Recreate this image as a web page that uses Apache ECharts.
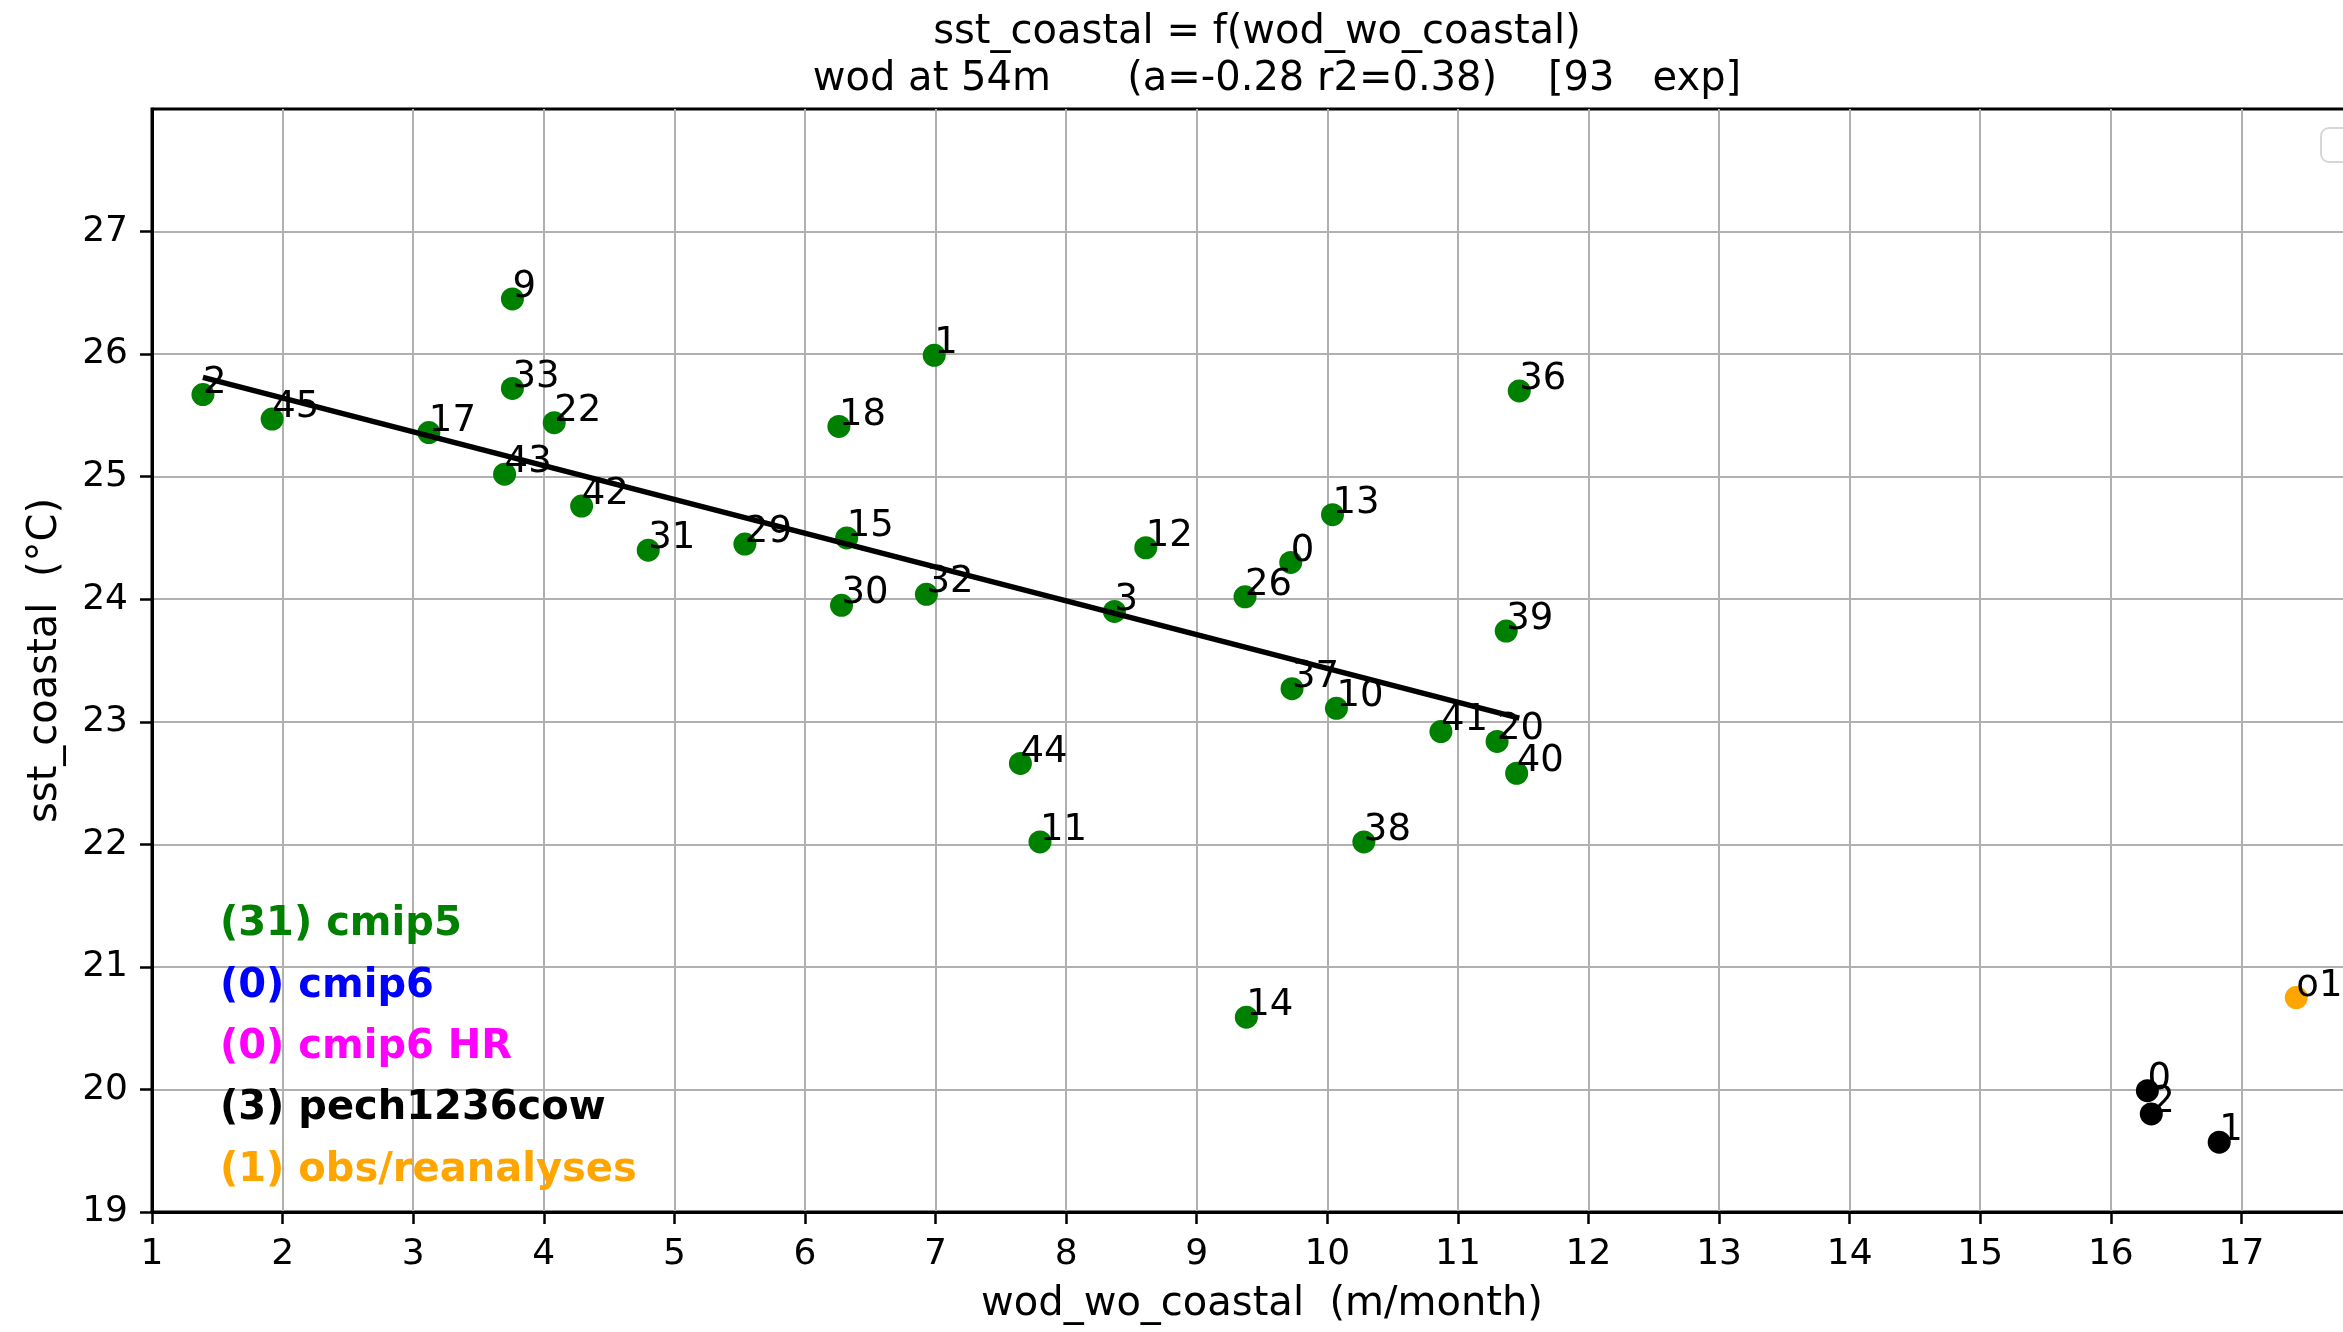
<!DOCTYPE html>
<html>
<head>
<meta charset="utf-8">
<script src="https://cdn.jsdelivr.net/npm/echarts@6/dist/echarts.min.js"></script>
<style>
html,body{margin:0;padding:0;background:#fff;overflow:hidden;width:2343px;height:1332px;}
#chart{width:2400px;height:1332px;}
</style>
</head>
<body>
<div id="chart"></div>
<script>
// ---- data ----
const cmip5Labels = ['2','45','17','9','33','22','43','42','31','29','18','15','30','32','1','3','12','44','11','26','0','13','37','10','38','14','36','39','41','20','40'];
const cmip5X = [1.39,1.92,3.12,3.76,3.76,4.08,3.70,4.29,4.80,5.54,6.26,6.32,6.28,6.93,6.99,8.37,8.61,7.65,7.80,9.37,9.72,10.04,9.73,10.07,10.28,9.38,11.47,11.37,10.87,11.30,11.45];
const cmip5Y = [25.67,25.47,25.36,26.45,25.72,25.44,25.02,24.76,24.40,24.45,25.41,24.50,23.95,24.04,25.99,23.90,24.42,22.66,22.02,24.02,24.30,24.69,23.27,23.11,22.02,20.59,25.70,23.74,22.92,22.84,22.58];

const pechLabels = ['0','2','1'];
const pechX = [16.28,16.31,16.83];
const pechY = [19.99,19.80,19.57];

const obsLabels = ['o1'];
const obsX = [17.42];
const obsY = [20.75];

const fitX = [1.39, 11.47];
const fitY = [25.81, 23.03];

const xTicks = [1,2,3,4,5,6,7,8,9,10,11,12,13,14,15,16,17,18];
const yTicks = [19,20,21,22,23,24,25,26,27];

const legendTexts = ['(31) cmip5','(0) cmip6','(0) cmip6 HR','(3) pech1236cow','(1) obs/reanalyses'];
const legendColors = ['#008000','#0000ff','#ff00ff','#000000','#ffa500'];

const titleLine1 = 'sst_coastal = f(wod_wo_coastal)';
const titleLine2 = 'wod at 54m      (a=-0.28 r2=0.38)    [93   exp]';

// ---- build ----
const FONT = 'DejaVu Sans';
function pts(xs, ys, labels){ return xs.map((x,i)=>({value:[x, ys[i]], name: labels[i]})); }
const SYM = 23;
const labelCfg = {
  show: true, formatter: '{b}', position: [SYM/2, SYM/2 + 7],
  align: 'left', verticalAlign: 'bottom',
  color: '#000', fontFamily: FONT, fontSize: 37, lineHeight: 37
};
function scatter(name, data, color){
  return { name, type:'scatter', data, symbol:'circle', symbolSize:SYM,
    itemStyle:{color, opacity:1}, label: labelCfg, z: 3, emphasis:{disabled:true}, animation:false };
}

const chart = echarts.init(document.getElementById('chart'), null, {renderer:'canvas'});
const legendGraphics = legendTexts.map((t,i)=>({
  type:'text', left: 220, top: 925 + i*61.3 - 20,
  style:{ text:t, fill: legendColors[i], font: 'bold 40px "DejaVu Sans"' }, z: 10
}));

chart.setOption({
  animation: false,
  backgroundColor: '#fff',
  textStyle: { fontFamily: FONT },
  grid: { left: 152, top: 109, width: 2220, height: 1103, show: true, borderColor: '#000', borderWidth: 3, backgroundColor: 'transparent' },
  xAxis: {
    type: 'value', min: 1, max: 18, interval: 1,
    name: 'wod_wo_coastal  (m/month)', nameLocation: 'middle', nameGap: 73,
    nameTextStyle: { fontFamily: FONT, fontSize: 40, color: '#000' },
    axisLine: { show: true, onZero: false, lineStyle: { color: '#000', width: 3 } },
    axisTick: { show: true, length: 12, lineStyle: { color: '#000', width: 2.5 }, customValues: xTicks },
    axisLabel: { fontFamily: FONT, fontSize: 36, color: '#000', margin: 25, customValues: xTicks },
    splitLine: { show: true, lineStyle: { color: '#b0b0b0', width: 2 } }
  },
  yAxis: {
    type: 'value', min: 19, max: 28, interval: 1,
    name: 'sst_coastal  (°C)', nameLocation: 'middle', nameGap: 86, nameRotate: 90,
    nameTextStyle: { fontFamily: FONT, fontSize: 40, color: '#000' },
    axisLine: { show: true, onZero: false, lineStyle: { color: '#000', width: 3 } },
    axisTick: { show: true, length: 12, lineStyle: { color: '#000', width: 2.5 }, customValues: yTicks },
    axisLabel: { fontFamily: FONT, fontSize: 36, color: '#000', margin: 24, customValues: yTicks },
    splitLine: { show: true, lineStyle: { color: '#b0b0b0', width: 2 } }
  },
  graphic: [
    { type:'text', x: 1257, y: 33, style:{ text: titleLine1, fill:'#000', font:'40px "DejaVu Sans"', textAlign:'center', textVerticalAlign:'middle' }, z: 10 },
    { type:'text', x: 1277, y: 80, style:{ text: titleLine2, fill:'#000', font:'40px "DejaVu Sans"', textAlign:'center', textVerticalAlign:'middle' }, z: 10 },
    { type:'rect', shape:{ x: 2321, y: 128, width: 80, height: 34, r: 8 }, style:{ fill:'#fff', stroke:'#d6d6d6', lineWidth: 2 }, z: 10 }
  ].concat(legendGraphics),
  series: [
    scatter('cmip5', pts(cmip5X, cmip5Y, cmip5Labels), '#008000'),
    scatter('pech1236cow', pts(pechX, pechY, pechLabels), '#000000'),
    scatter('obs', pts(obsX, obsY, obsLabels), '#ffa500'),
    { name:'fit', type:'line', data: fitX.map((x,i)=>[x, fitY[i]]), symbol:'none',
      lineStyle:{ color:'#000', width: 5.5 }, z: 4, silent: true, animation:false }
  ]
});
</script>
</body>
</html>
